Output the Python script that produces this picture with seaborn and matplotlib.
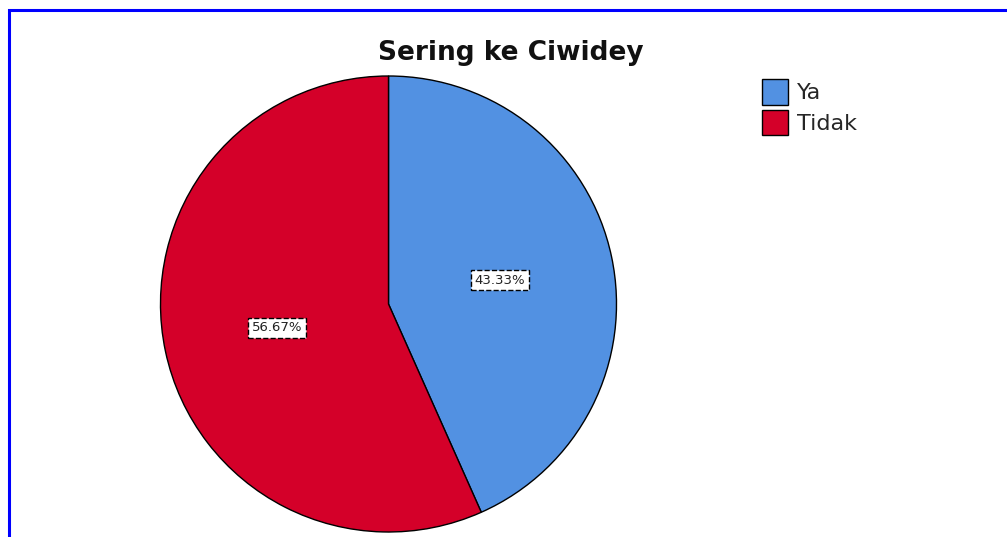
import seaborn as sns
import matplotlib.pyplot as plt
from matplotlib.patches import Rectangle

# data
kategori = ['Ya', 'Tidak']
persen = [43.33, 56.67]
warna = ['#5291E2', '#D40029']

sns.set_style('white')
plt.rcParams['font.family'] = ['DejaVu Sans']

W, H = 1007, 537
fig = plt.figure(figsize=(W / 100, H / 100), dpi=100)

# pie axes: square of 456 px, centre at (388.5, 304) px from top-left
cx, cy, r = 388.5, 304, 228
ax = fig.add_axes([(cx - r) / W, (H - cy - r) / H, 2 * r / W, 2 * r / H])

wedges, texts, autotexts = ax.pie(
    persen,
    colors=sns.color_palette(warna),
    startangle=90,
    counterclock=False,
    autopct='%.2f%%',
    pctdistance=0.5,
    wedgeprops=dict(edgecolor='black', linewidth=1),
    textprops=dict(fontsize=9.5, color='#222222'),
)
for t in autotexts:
    t.set_bbox(dict(boxstyle='square,pad=0.25', fc='white', ec='black',
                    ls='--', lw=1))
ax.set_xlim(-1, 1)
ax.set_ylim(-1, 1)
ax.set_aspect('equal')
ax.axis('off')

fig.text(511 / W, 1 - 53 / H, 'Sering ke Ciwidey', ha='center', va='center',
         fontsize=19, fontweight='bold', color='#111111')

fig.legend(wedges, kategori, loc='upper left',
           bbox_to_anchor=(762 / W, 1 - 79 / H), frameon=False,
           fontsize=16, handlelength=1.17, handleheight=1.4,
           handletextpad=0.4, labelspacing=0.22, borderpad=0,
           borderaxespad=0)

# blue frame (only left and top edges visible in the crop)
fig.patches.append(Rectangle((9 / W, -0.1), 1.2, 1 - 9.5 / H + 0.1,
                             transform=fig.transFigure, fill=False,
                             edgecolor='#0000FF', linewidth=2.2,
                             clip_on=False))

fig.savefig('out.png', dpi=100)
